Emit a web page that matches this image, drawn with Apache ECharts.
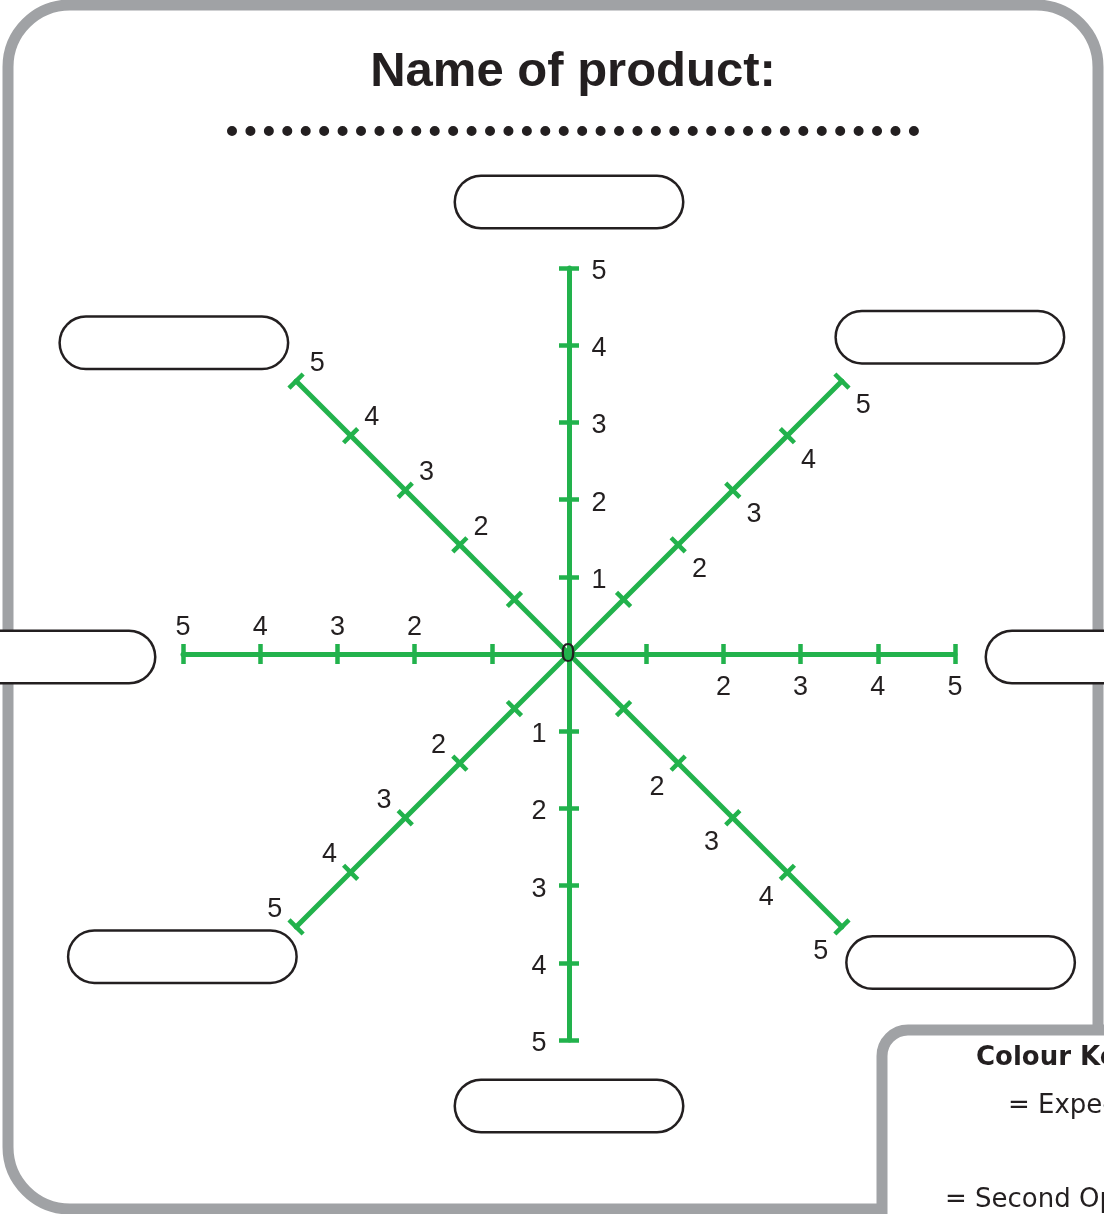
<!DOCTYPE html>
<html>
<head>
<meta charset="utf-8">
<script src="https://cdn.jsdelivr.net/npm/echarts@6/dist/echarts.min.js"></script>
<style>
html,body{margin:0;padding:0;background:#fff;}
#chart{width:1104px;height:1214px;}
</style>
</head>
<body>
<div id="chart"></div>
<script>
// ---- data ----
var title = 'Name of product:';
var indicatorNames = ['', '', '', '', '', '', '', ''];  // blank name boxes, top then counter-clockwise
var scaleMin = 0;
var scaleMax = 5;
var tickValues = [1, 2, 3, 4, 5];
var labelsVertical = [1, 2, 3, 4, 5];
var labelsOther = [2, 3, 4, 5];
var centerLabel = '0';
var seriesNames = ['Expected', 'Second Opinion'];
var expectedValues = [];
var secondOpinionValues = [];
var keyTitle = 'Colour Key';

// ---- styling / layout ----
var GREEN = '#22b24c';
var INK = '#231f20';
var FRAME = '#a0a2a5';
var LABEL_FONT = 'Liberation Sans';

var nameLayout = [
  {gap: 40, align: 'center', va: 'bottom', pad: [0, 0, 1, 0]},
  {gap: 13, align: 'right', va: 'bottom', pad: [0, 0, 4, 0]},
  {gap: 29, align: 'right', va: 'middle', pad: [6, 0, 0, 0]},
  {gap: 1,  align: 'right', va: 'top', pad: [4, 0, 0, 0]},
  {gap: 40, align: 'center', va: 'top', pad: [1, 0, 0, 0]},
  {gap: 8, align: 'left', va: 'top', pad: [5, 0, 0, 0]},
  {gap: 32, align: 'left', va: 'middle', pad: [6, 0, 0, 0]},
  {gap: -10, align: 'left', va: 'bottom', pad: [0, 0, 26, 2]}
];

function buildIndicators(withNames) {
  return indicatorNames.map(function (n, i) {
    var vertical = (i === 0 || i === 4);
    var ind = {name: n, min: scaleMin, max: scaleMax};
    if (withNames) {
      ind.nameGap = nameLayout[i].gap;
      ind.nameTextStyle = {
        align: nameLayout[i].align,
        verticalAlign: nameLayout[i].va,
        padding: nameLayout[i].pad
      };
      ind.axisLabel = {
        customValues: vertical ? labelsVertical : labelsOther
      };
    }
    return ind;
  });
}

var center = [569, 654];
var radius = 386;

var radarBase = {
  center: center,
  radius: radius,
  startAngle: 90,
  splitNumber: 5,
  shape: 'polygon',
  splitLine: {show: false},
  splitArea: {show: false}
};

var option = {
  backgroundColor: '#ffffff',
  animation: false,
  radar: [
    Object.assign({}, radarBase, {
      indicator: buildIndicators(true),
      axisName: {
        show: true,
        color: INK,
        formatter: function (name) { return '{box|' + (name || ' ') + '}'; },
        rich: {
          box: {
            width: 226,
            height: 50,
            backgroundColor: '#ffffff',
            borderColor: INK,
            borderWidth: 2.5,
            borderRadius: 26,
            fontSize: 14,
            color: INK,
            align: 'center'
          }
        }
      },
      axisLine: {show: true, lineStyle: {color: GREEN, width: 5}},
      axisTick: {show: true, customValues: tickValues, length: 10, lineStyle: {color: GREEN, width: 4.5}},
      axisLabel: {
        show: true,
        customValues: labelsOther,
        margin: -30,
        align: 'center',
        verticalAlign: 'middle',
        color: INK,
        fontFamily: LABEL_FONT,
        fontSize: 27,
        formatter: function (v) { return '{n|' + v + '}'; },
        rich: {
          n: {
            padding: [7, 0, 0, 0],
            color: INK,
            fontFamily: LABEL_FONT,
            fontSize: 27
          }
        }
      }
    }),
    Object.assign({}, radarBase, {
      indicator: buildIndicators(false),
      axisName: {show: false},
      axisLine: {show: false},
      axisTick: {show: true, inside: true, customValues: tickValues, length: -10, lineStyle: {color: GREEN, width: 4.5}},
      axisLabel: {show: false}
    })
  ],
  series: [
    {type: 'radar', name: seriesNames[0], radarIndex: 0, data: expectedValues.length ? [{value: expectedValues}] : []},
    {type: 'radar', name: seriesNames[1], radarIndex: 0, data: secondOpinionValues.length ? [{value: secondOpinionValues}] : []}
  ],
  graphic: [
    {type: 'rect', z: -10, silent: true,
     shape: {x: 8, y: 5, width: 1090, height: 1204, r: 62},
     style: {fill: '#ffffff', stroke: FRAME, lineWidth: 11}},
    {type: 'rect', z: -9, silent: true,
     shape: {x: 882, y: 1030, width: 420, height: 300, r: 26},
     style: {fill: '#ffffff', stroke: FRAME, lineWidth: 11}},
    {type: 'text', z: 10, silent: true, x: 573, y: 72,
     style: {text: title, fill: INK, font: 'bold 49px "Liberation Sans"', align: 'center', verticalAlign: 'middle'}},
    {type: 'line', z: 10, silent: true,
     shape: {x1: 232, y1: 131, x2: 914, y2: 131},
     style: {stroke: INK, lineWidth: 10, lineCap: 'round', lineDash: [0, 18.43]}},
    {type: 'text', z: 10, silent: true, x: center[0] - 1, y: center[1] + 1,
     style: {text: centerLabel, fill: INK, font: '27px "Liberation Sans"', align: 'center', verticalAlign: 'middle'}},
    {type: 'text', z: 10, silent: true, x: 976, y: 1058,
     style: {text: keyTitle, fill: INK, font: 'bold 26px "DejaVu Sans"', align: 'left', verticalAlign: 'middle'}},
    {type: 'text', z: 10, silent: true, x: 1008, y: 1106,
     style: {text: '= ' + seriesNames[0], fill: INK, font: '26px "DejaVu Sans"', align: 'left', verticalAlign: 'middle'}},
    {type: 'text', z: 10, silent: true, x: 945, y: 1200,
     style: {text: '= ' + seriesNames[1], fill: INK, font: '26px "DejaVu Sans"', align: 'left', verticalAlign: 'middle'}}
  ]
};

var chart = echarts.init(document.getElementById('chart'), null, {renderer: 'canvas'});
chart.setOption(option);
</script>
</body>
</html>
